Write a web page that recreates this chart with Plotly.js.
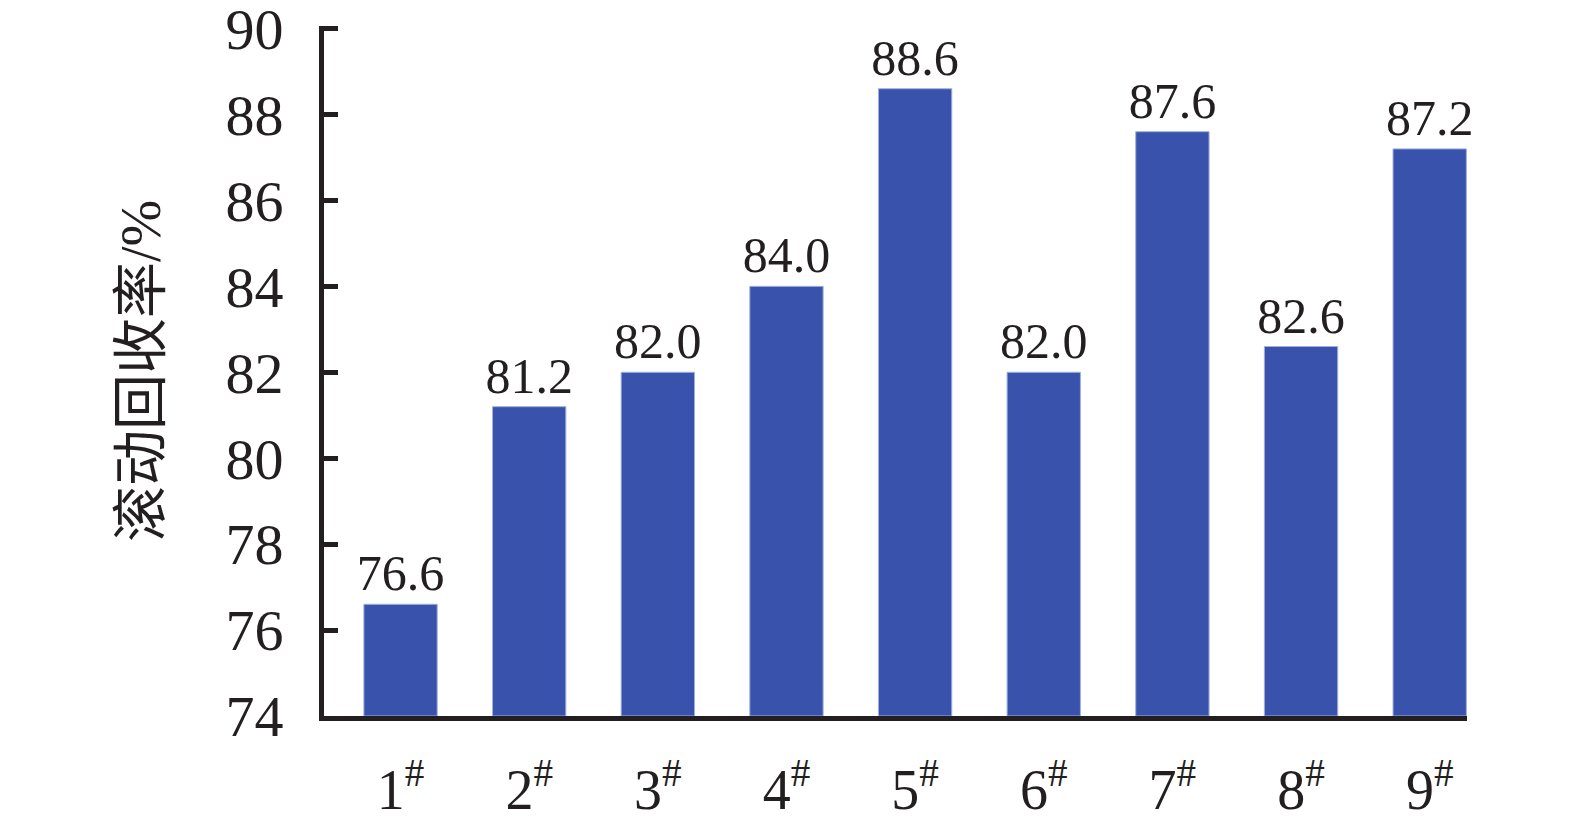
<!DOCTYPE html>
<html>
<head>
<meta charset="utf-8">
<script src="https://cdn.plot.ly/plotly-3.0.1.min.js"></script>
<style>html,body{margin:0;padding:0;background:#fff;}#chart{width:1575px;height:822px;}</style>
</head>
<body>
<div id="chart"></div>
<script>
const categories = ["1", "2", "3", "4", "5", "6", "7", "8", "9"];
const tickLabels = ["1<sup>#</sup>", "2<sup>#</sup>", "3<sup>#</sup>", "4<sup>#</sup>", "5<sup>#</sup>", "6<sup>#</sup>", "7<sup>#</sup>", "8<sup>#</sup>", "9<sup>#</sup>"];
const rollingRecovery = [76.6, 81.2, 82.0, 84.0, 88.6, 82.0, 87.6, 82.6, 87.2];
const yTicks = [74, 76, 78, 80, 82, 84, 86, 88, 90];
const yTitle = "滚动回收率/%";

const serif = "'Liberation Serif', 'Times New Roman', 'Noto Sans CJK SC', serif";
const ink = "#231f20";
const baseValue = 74;

const trace = {
  type: "bar",
  x: categories.map((c, i) => i),
  y: rollingRecovery.map(v => v - baseValue),
  base: baseValue,
  width: 0.57,
  marker: {color: "#3953ad", line: {color: "#9fb0dc", width: 1}},
  text: rollingRecovery.map(v => v.toFixed(1)),
  textposition: "outside",
  constraintext: "none",
  textfont: {family: serif, size: 50, color: ink},
  cliponaxis: false,
  hoverinfo: "none"
};

const layout = {
  width: 1575,
  height: 822,
  margin: {l: 324, r: 108, t: 26, b: 106},
  paper_bgcolor: "#fff",
  plot_bgcolor: "#fff",
  showlegend: false,
  xaxis: {
    range: [-0.595, 8.29],
    tickvals: categories.map((c, i) => i),
    ticktext: tickLabels,
    showline: true,
    linecolor: ink,
    linewidth: 5,
    ticks: "",
    showgrid: false,
    zeroline: false,
    ticklabelstandoff: 21,
    ticklabeloverflow: "allow",
    tickfont: {family: serif, size: 56, color: ink}
  },
  yaxis: {
    range: [74, 90.06],
    tickvals: yTicks,
    ticktext: yTicks.map(String),
    showline: true,
    linecolor: ink,
    linewidth: 5,
    ticks: "inside",
    ticklen: 14,
    tickwidth: 5,
    tickcolor: ink,
    showgrid: false,
    zeroline: false,
    ticklabelstandoff: 24,
    ticklabeloverflow: "allow",
    tickfont: {family: serif, size: 58, color: ink},
    title: {text: yTitle, font: {family: serif, size: 56, color: ink}, standoff: 48}
  }
};

Plotly.newPlot("chart", [trace], layout, {displayModeBar: false, staticPlot: true});
</script>
</body>
</html>
